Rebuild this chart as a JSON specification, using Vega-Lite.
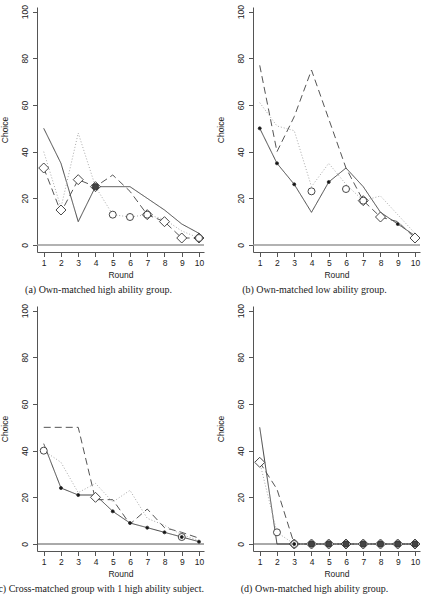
{
"$schema": "https://vega.github.io/schema/vega-lite/v6.json",
"autosize": {"type": "none"},
"padding": {"left": 37, "top": 7, "right": 396, "bottom": 588},
"background": "white",
"datasets": {
"lines": [
{"panel":"a","series":"A","round":1,"choice":50},{"panel":"a","series":"A","round":2,"choice":35},{"panel":"a","series":"A","round":3,"choice":10},{"panel":"a","series":"A","round":4,"choice":25},{"panel":"a","series":"A","round":5,"choice":25},{"panel":"a","series":"A","round":6,"choice":25},{"panel":"a","series":"A","round":7,"choice":20},{"panel":"a","series":"A","round":8,"choice":15},{"panel":"a","series":"A","round":9,"choice":9},{"panel":"a","series":"A","round":10,"choice":5},
{"panel":"a","series":"B","round":1,"choice":33},{"panel":"a","series":"B","round":2,"choice":14},{"panel":"a","series":"B","round":3,"choice":28},{"panel":"a","series":"B","round":4,"choice":25},{"panel":"a","series":"B","round":5,"choice":30},{"panel":"a","series":"B","round":6,"choice":23},{"panel":"a","series":"B","round":7,"choice":13},{"panel":"a","series":"B","round":8,"choice":10},{"panel":"a","series":"B","round":9,"choice":3},{"panel":"a","series":"B","round":10,"choice":3},
{"panel":"a","series":"C","round":1,"choice":40},{"panel":"a","series":"C","round":2,"choice":16},{"panel":"a","series":"C","round":3,"choice":48},{"panel":"a","series":"C","round":4,"choice":25},{"panel":"a","series":"C","round":5,"choice":13},{"panel":"a","series":"C","round":6,"choice":12},{"panel":"a","series":"C","round":7,"choice":13},{"panel":"a","series":"C","round":8,"choice":11},{"panel":"a","series":"C","round":9,"choice":6},{"panel":"a","series":"C","round":10,"choice":3},
{"panel":"b","series":"A","round":1,"choice":50},{"panel":"b","series":"A","round":2,"choice":35},{"panel":"b","series":"A","round":3,"choice":26},{"panel":"b","series":"A","round":4,"choice":14},{"panel":"b","series":"A","round":5,"choice":27},{"panel":"b","series":"A","round":6,"choice":33},{"panel":"b","series":"A","round":7,"choice":25},{"panel":"b","series":"A","round":8,"choice":14},{"panel":"b","series":"A","round":9,"choice":9},{"panel":"b","series":"A","round":10,"choice":4},
{"panel":"b","series":"B","round":1,"choice":77},{"panel":"b","series":"B","round":2,"choice":40},{"panel":"b","series":"B","round":3,"choice":55},{"panel":"b","series":"B","round":4,"choice":75},{"panel":"b","series":"B","round":5,"choice":54},{"panel":"b","series":"B","round":6,"choice":33},{"panel":"b","series":"B","round":7,"choice":19},{"panel":"b","series":"B","round":8,"choice":12},{"panel":"b","series":"B","round":9,"choice":10},{"panel":"b","series":"B","round":10,"choice":3},
{"panel":"b","series":"C","round":1,"choice":61},{"panel":"b","series":"C","round":2,"choice":51},{"panel":"b","series":"C","round":3,"choice":49},{"panel":"b","series":"C","round":4,"choice":25},{"panel":"b","series":"C","round":5,"choice":35},{"panel":"b","series":"C","round":6,"choice":26},{"panel":"b","series":"C","round":7,"choice":19},{"panel":"b","series":"C","round":8,"choice":21},{"panel":"b","series":"C","round":9,"choice":13},{"panel":"b","series":"C","round":10,"choice":5},
{"panel":"c","series":"A","round":1,"choice":43},{"panel":"c","series":"A","round":2,"choice":24},{"panel":"c","series":"A","round":3,"choice":21},{"panel":"c","series":"A","round":4,"choice":21},{"panel":"c","series":"A","round":5,"choice":14},{"panel":"c","series":"A","round":6,"choice":9},{"panel":"c","series":"A","round":7,"choice":7},{"panel":"c","series":"A","round":8,"choice":5},{"panel":"c","series":"A","round":9,"choice":3},{"panel":"c","series":"A","round":10,"choice":1},
{"panel":"c","series":"B","round":1,"choice":50},{"panel":"c","series":"B","round":2,"choice":50},{"panel":"c","series":"B","round":3,"choice":50},{"panel":"c","series":"B","round":4,"choice":19},{"panel":"c","series":"B","round":5,"choice":19},{"panel":"c","series":"B","round":6,"choice":8.5},{"panel":"c","series":"B","round":7,"choice":15},{"panel":"c","series":"B","round":8,"choice":7},{"panel":"c","series":"B","round":9,"choice":5},{"panel":"c","series":"B","round":10,"choice":2.5},
{"panel":"c","series":"C","round":1,"choice":40},{"panel":"c","series":"C","round":2,"choice":35},{"panel":"c","series":"C","round":3,"choice":22},{"panel":"c","series":"C","round":4,"choice":26},{"panel":"c","series":"C","round":5,"choice":18},{"panel":"c","series":"C","round":6,"choice":23},{"panel":"c","series":"C","round":7,"choice":11},{"panel":"c","series":"C","round":8,"choice":8},{"panel":"c","series":"C","round":9,"choice":4},{"panel":"c","series":"C","round":10,"choice":1.5},
{"panel":"d","series":"A","round":1,"choice":50},{"panel":"d","series":"A","round":2,"choice":0},{"panel":"d","series":"A","round":3,"choice":0},{"panel":"d","series":"A","round":4,"choice":0},{"panel":"d","series":"A","round":5,"choice":0},{"panel":"d","series":"A","round":6,"choice":0},{"panel":"d","series":"A","round":7,"choice":0},{"panel":"d","series":"A","round":8,"choice":0},{"panel":"d","series":"A","round":9,"choice":0},{"panel":"d","series":"A","round":10,"choice":0},
{"panel":"d","series":"B","round":1,"choice":35},{"panel":"d","series":"B","round":2,"choice":23.5},{"panel":"d","series":"B","round":3,"choice":0},{"panel":"d","series":"B","round":4,"choice":0},{"panel":"d","series":"B","round":5,"choice":0},{"panel":"d","series":"B","round":6,"choice":0},{"panel":"d","series":"B","round":7,"choice":0},{"panel":"d","series":"B","round":8,"choice":0},{"panel":"d","series":"B","round":9,"choice":0},{"panel":"d","series":"B","round":10,"choice":0},
{"panel":"d","series":"C","round":1,"choice":35},{"panel":"d","series":"C","round":2,"choice":5},{"panel":"d","series":"C","round":3,"choice":0},{"panel":"d","series":"C","round":4,"choice":0},{"panel":"d","series":"C","round":5,"choice":0},{"panel":"d","series":"C","round":6,"choice":0},{"panel":"d","series":"C","round":7,"choice":0},{"panel":"d","series":"C","round":8,"choice":0},{"panel":"d","series":"C","round":9,"choice":0},{"panel":"d","series":"C","round":10,"choice":0}
],
"marks": [
{"panel":"a","marker":"diamond","round":1,"choice":33},{"panel":"a","marker":"diamond","round":2,"choice":15},{"panel":"a","marker":"diamond","round":3,"choice":28},{"panel":"a","marker":"diamond","round":4,"choice":25},{"panel":"a","marker":"diamond","round":7,"choice":13},{"panel":"a","marker":"diamond","round":8,"choice":10},{"panel":"a","marker":"diamond","round":9,"choice":3},{"panel":"a","marker":"diamond","round":10,"choice":3},
{"panel":"b","marker":"diamond","round":7,"choice":19},{"panel":"b","marker":"diamond","round":8,"choice":12},{"panel":"b","marker":"diamond","round":10,"choice":3},
{"panel":"c","marker":"diamond","round":4,"choice":20},
{"panel":"d","marker":"diamond","round":1,"choice":35},{"panel":"d","marker":"diamond","round":3,"choice":0},{"panel":"d","marker":"diamond","round":4,"choice":0},{"panel":"d","marker":"diamond","round":5,"choice":0},{"panel":"d","marker":"diamond","round":6,"choice":0},{"panel":"d","marker":"diamond","round":7,"choice":0},{"panel":"d","marker":"diamond","round":8,"choice":0},{"panel":"d","marker":"diamond","round":9,"choice":0},{"panel":"d","marker":"diamond","round":10,"choice":0},
{"panel":"a","marker":"circle","round":5,"choice":13},{"panel":"a","marker":"circle","round":6,"choice":12},{"panel":"a","marker":"circle","round":7,"choice":13},{"panel":"a","marker":"circle","round":10,"choice":3},
{"panel":"b","marker":"circle","round":4,"choice":23},{"panel":"b","marker":"circle","round":6,"choice":24},{"panel":"b","marker":"circle","round":7,"choice":19},
{"panel":"c","marker":"circle","round":1,"choice":40},{"panel":"c","marker":"circle","round":9,"choice":3},
{"panel":"d","marker":"circle","round":2,"choice":5},{"panel":"d","marker":"circle","round":3,"choice":0},
{"panel":"a","marker":"blob","round":4,"choice":25},
{"panel":"d","marker":"blob","round":4,"choice":0},{"panel":"d","marker":"blob","round":5,"choice":0},{"panel":"d","marker":"blob","round":6,"choice":0},{"panel":"d","marker":"blob","round":7,"choice":0},{"panel":"d","marker":"blob","round":8,"choice":0},{"panel":"d","marker":"blob","round":9,"choice":0},{"panel":"d","marker":"blob","round":10,"choice":0},
{"panel":"b","marker":"dot","round":1,"choice":50},{"panel":"b","marker":"dot","round":2,"choice":35},{"panel":"b","marker":"dot","round":3,"choice":26},{"panel":"b","marker":"dot","round":5,"choice":27},{"panel":"b","marker":"dot","round":9,"choice":9},
{"panel":"c","marker":"dot","round":2,"choice":24},{"panel":"c","marker":"dot","round":3,"choice":21},{"panel":"c","marker":"dot","round":5,"choice":14},{"panel":"c","marker":"dot","round":6,"choice":9},{"panel":"c","marker":"dot","round":7,"choice":7},{"panel":"c","marker":"dot","round":8,"choice":5},{"panel":"c","marker":"dot","round":9,"choice":3},{"panel":"c","marker":"dot","round":10,"choice":1},
{"panel":"d","marker":"dot","round":3,"choice":0}
],
"zero": [{"z": 0}]
},
"columns": 2,
"spacing": {"row": 54, "column": 49},
"bounds": "flush",
"concat": [
{"width":167,"height":245,
 "title":{"text":"(a) Own-matched high ability group.","orient":"bottom","anchor":"middle","frame":"group","dx":-22,"offset":6},
 "layer":[
  {"data":{"name":"zero"},"mark":{"type":"rule","color":"#999","strokeWidth":1.5},
   "encoding":{"y":{"field":"z","type":"quantitative","scale":{"domain":[-3,102],"nice":false,"zero":false},"axis":{"title":"Choice","values":[0,20,40,60,80,100],"format":"d"}}}},
  {"data":{"name":"lines"},"transform":[{"filter":"datum.panel==='a'"}],"mark":{"type":"line","strokeWidth":1},
   "encoding":{"x":{"field":"round","type":"quantitative","scale":{"domain":[0.61,10.29],"nice":false,"zero":false},"axis":{"title":"Round","values":[1,2,3,4,5,6,7,8,9,10],"format":"d"}},
    "y":{"field":"choice","type":"quantitative","scale":{"domain":[-3,102],"nice":false,"zero":false},"axis":{"title":"Choice","values":[0,20,40,60,80,100],"format":"d"}},
    "color":{"field":"series","type":"nominal","scale":{"domain":["A","B","C"],"range":["#444444","#555555","#aaaaaa"]},"legend":null},
    "strokeDash":{"field":"series","type":"nominal","scale":{"domain":["A","B","C"],"range":[[1,0],[7,4],[1,2]]},"legend":null}}},
  {"data":{"name":"marks"},"transform":[{"filter":"datum.panel==='a'"}],"mark":{"type":"point","stroke":"#333333","strokeWidth":0.9,"opacity":1},
   "encoding":{"x":{"field":"round","type":"quantitative","scale":{"domain":[0.61,10.29],"nice":false,"zero":false},"axis":{"title":"Round","values":[1,2,3,4,5,6,7,8,9,10],"format":"d"}},
    "y":{"field":"choice","type":"quantitative","scale":{"domain":[-3,102],"nice":false,"zero":false},"axis":{"title":"Choice","values":[0,20,40,60,80,100],"format":"d"}},
    "shape":{"field":"marker","type":"nominal","scale":{"domain":["diamond","circle","dot","blob"],"range":["diamond","circle","circle","circle"]},"legend":null},
    "size":{"field":"marker","type":"nominal","scale":{"type":"ordinal","domain":["diamond","circle","dot","blob"],"range":[100,49,9,40]},"legend":null},
    "fill":{"field":"marker","type":"nominal","scale":{"domain":["diamond","circle","dot","blob"],"range":["#ffffff","#ffffff","#111111","#444444"]},"legend":null}}}
 ]},
{"width":167,"height":245,
 "title":{"text":"(b) Own-matched low ability group.","orient":"bottom","anchor":"middle","frame":"group","dx":-22,"offset":6},
 "layer":[
  {"data":{"name":"zero"},"mark":{"type":"rule","color":"#999","strokeWidth":1.5},
   "encoding":{"y":{"field":"z","type":"quantitative","scale":{"domain":[-3,102],"nice":false,"zero":false},"axis":{"title":"Choice","values":[0,20,40,60,80,100],"format":"d"}}}},
  {"data":{"name":"lines"},"transform":[{"filter":"datum.panel==='b'"}],"mark":{"type":"line","strokeWidth":1},
   "encoding":{"x":{"field":"round","type":"quantitative","scale":{"domain":[0.61,10.29],"nice":false,"zero":false},"axis":{"title":"Round","values":[1,2,3,4,5,6,7,8,9,10],"format":"d"}},
    "y":{"field":"choice","type":"quantitative","scale":{"domain":[-3,102],"nice":false,"zero":false},"axis":{"title":"Choice","values":[0,20,40,60,80,100],"format":"d"}},
    "color":{"field":"series","type":"nominal","scale":{"domain":["A","B","C"],"range":["#444444","#555555","#aaaaaa"]},"legend":null},
    "strokeDash":{"field":"series","type":"nominal","scale":{"domain":["A","B","C"],"range":[[1,0],[7,4],[1,2]]},"legend":null}}},
  {"data":{"name":"marks"},"transform":[{"filter":"datum.panel==='b'"}],"mark":{"type":"point","stroke":"#333333","strokeWidth":0.9,"opacity":1},
   "encoding":{"x":{"field":"round","type":"quantitative","scale":{"domain":[0.61,10.29],"nice":false,"zero":false},"axis":{"title":"Round","values":[1,2,3,4,5,6,7,8,9,10],"format":"d"}},
    "y":{"field":"choice","type":"quantitative","scale":{"domain":[-3,102],"nice":false,"zero":false},"axis":{"title":"Choice","values":[0,20,40,60,80,100],"format":"d"}},
    "shape":{"field":"marker","type":"nominal","scale":{"domain":["diamond","circle","dot","blob"],"range":["diamond","circle","circle","circle"]},"legend":null},
    "size":{"field":"marker","type":"nominal","scale":{"type":"ordinal","domain":["diamond","circle","dot","blob"],"range":[100,49,9,40]},"legend":null},
    "fill":{"field":"marker","type":"nominal","scale":{"domain":["diamond","circle","dot","blob"],"range":["#ffffff","#ffffff","#111111","#444444"]},"legend":null}}}
 ]},
{"width":167,"height":245,
 "title":{"text":"(c) Cross-matched group with 1 high ability subject.","orient":"bottom","anchor":"middle","frame":"group","dx":-21,"offset":6},
 "layer":[
  {"data":{"name":"zero"},"mark":{"type":"rule","color":"#555","strokeWidth":1},
   "encoding":{"y":{"field":"z","type":"quantitative","scale":{"domain":[-3,102],"nice":false,"zero":false},"axis":{"title":"Choice","values":[0,20,40,60,80,100],"format":"d"}}}},
  {"data":{"name":"lines"},"transform":[{"filter":"datum.panel==='c'"}],"mark":{"type":"line","strokeWidth":1},
   "encoding":{"x":{"field":"round","type":"quantitative","scale":{"domain":[0.61,10.29],"nice":false,"zero":false},"axis":{"title":"Round","values":[1,2,3,4,5,6,7,8,9,10],"format":"d"}},
    "y":{"field":"choice","type":"quantitative","scale":{"domain":[-3,102],"nice":false,"zero":false},"axis":{"title":"Choice","values":[0,20,40,60,80,100],"format":"d"}},
    "color":{"field":"series","type":"nominal","scale":{"domain":["A","B","C"],"range":["#444444","#555555","#aaaaaa"]},"legend":null},
    "strokeDash":{"field":"series","type":"nominal","scale":{"domain":["A","B","C"],"range":[[1,0],[7,4],[1,2]]},"legend":null}}},
  {"data":{"name":"marks"},"transform":[{"filter":"datum.panel==='c'"}],"mark":{"type":"point","stroke":"#333333","strokeWidth":0.9,"opacity":1},
   "encoding":{"x":{"field":"round","type":"quantitative","scale":{"domain":[0.61,10.29],"nice":false,"zero":false},"axis":{"title":"Round","values":[1,2,3,4,5,6,7,8,9,10],"format":"d"}},
    "y":{"field":"choice","type":"quantitative","scale":{"domain":[-3,102],"nice":false,"zero":false},"axis":{"title":"Choice","values":[0,20,40,60,80,100],"format":"d"}},
    "shape":{"field":"marker","type":"nominal","scale":{"domain":["diamond","circle","dot","blob"],"range":["diamond","circle","circle","circle"]},"legend":null},
    "size":{"field":"marker","type":"nominal","scale":{"type":"ordinal","domain":["diamond","circle","dot","blob"],"range":[100,49,9,40]},"legend":null},
    "fill":{"field":"marker","type":"nominal","scale":{"domain":["diamond","circle","dot","blob"],"range":["#ffffff","#ffffff","#111111","#444444"]},"legend":null}}}
 ]},
{"width":167,"height":245,
 "title":{"text":"(d) Own-matched high ability group.","orient":"bottom","anchor":"middle","frame":"group","dx":-22,"offset":6},
 "layer":[
  {"data":{"name":"zero"},"mark":{"type":"rule","color":"#555","strokeWidth":1},
   "encoding":{"y":{"field":"z","type":"quantitative","scale":{"domain":[-3,102],"nice":false,"zero":false},"axis":{"title":"Choice","values":[0,20,40,60,80,100],"format":"d"}}}},
  {"data":{"name":"lines"},"transform":[{"filter":"datum.panel==='d'"}],"mark":{"type":"line","strokeWidth":1},
   "encoding":{"x":{"field":"round","type":"quantitative","scale":{"domain":[0.61,10.29],"nice":false,"zero":false},"axis":{"title":"Round","values":[1,2,3,4,5,6,7,8,9,10],"format":"d"}},
    "y":{"field":"choice","type":"quantitative","scale":{"domain":[-3,102],"nice":false,"zero":false},"axis":{"title":"Choice","values":[0,20,40,60,80,100],"format":"d"}},
    "color":{"field":"series","type":"nominal","scale":{"domain":["A","B","C"],"range":["#444444","#555555","#aaaaaa"]},"legend":null},
    "strokeDash":{"field":"series","type":"nominal","scale":{"domain":["A","B","C"],"range":[[1,0],[7,4],[1,2]]},"legend":null}}},
  {"data":{"name":"marks"},"transform":[{"filter":"datum.panel==='d'"}],"mark":{"type":"point","stroke":"#333333","strokeWidth":0.9,"opacity":1},
   "encoding":{"x":{"field":"round","type":"quantitative","scale":{"domain":[0.61,10.29],"nice":false,"zero":false},"axis":{"title":"Round","values":[1,2,3,4,5,6,7,8,9,10],"format":"d"}},
    "y":{"field":"choice","type":"quantitative","scale":{"domain":[-3,102],"nice":false,"zero":false},"axis":{"title":"Choice","values":[0,20,40,60,80,100],"format":"d"}},
    "shape":{"field":"marker","type":"nominal","scale":{"domain":["diamond","circle","dot","blob"],"range":["diamond","circle","circle","circle"]},"legend":null},
    "size":{"field":"marker","type":"nominal","scale":{"type":"ordinal","domain":["diamond","circle","dot","blob"],"range":[100,49,9,40]},"legend":null},
    "fill":{"field":"marker","type":"nominal","scale":{"domain":["diamond","circle","dot","blob"],"range":["#ffffff","#ffffff","#111111","#444444"]},"legend":null}}}
 ]}
],
"config": {
 "view": {"stroke": null},
 "font": "Liberation Sans",
 "axis": {"grid": false, "domainColor": "#555555", "tickColor": "#555555", "labelColor": "#222222", "titleColor": "#222222", "labelFontSize": 8.5, "titleFontSize": 8.5, "titleFontWeight": "normal", "labelFont": "Liberation Sans", "titleFont": "Liberation Sans", "tickSize": 4.5, "domainWidth": 1, "tickWidth": 1},
 "axisY": {"labelAngle": -90, "labelPadding": 3, "titlePadding": 11},
 "axisX": {"labelPadding": 2, "titlePadding": 3},
 "title": {"font": "Liberation Serif", "fontSize": 10, "fontWeight": "normal", "color": "#222222"}
}
}
